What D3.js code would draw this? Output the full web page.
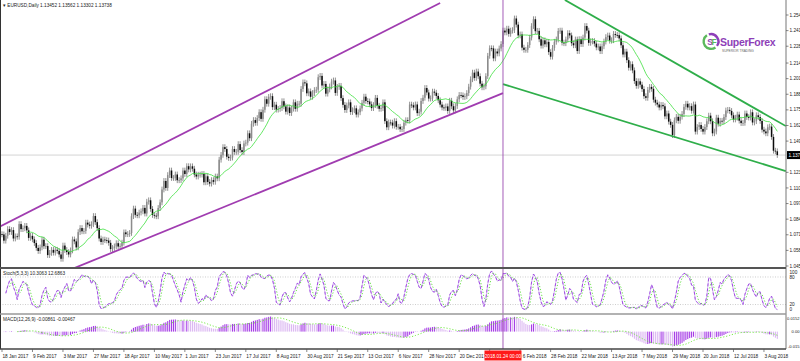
<!DOCTYPE html>
<html><head><meta charset="utf-8">
<script src="https://cdn.jsdelivr.net/npm/d3@7"></script>
<style>
body{margin:0;background:#fff;overflow:hidden;}
svg{display:block;}
text{font-family:"Liberation Sans",Arial,sans-serif;}
</style>
</head><body>
<svg id="c" width="800" height="361"></svg>
<script>
// ---- DATA ----
const symbolTitle = "EURUSD,Daily  1.13452 1.13562 1.13302 1.13738";
const stochTitle = "Stoch(5,3,3) 10.3063 12.6863";
const macdTitle = "MACD(12,26,9) -0.00861 -0.00467";
const firstOpen = 1.0715;
// daily closes, 18 Jan 2017 .. 14 Aug 2018 (one line per week)
const closes = [
1.0713,1.0661,1.0702,
1.0757,1.0733,1.0749,1.0679,1.0697,
1.0693,1.0799,1.0757,1.0764,1.0784,
1.0747,1.0684,1.0701,1.0672,1.0641,
1.0601,1.0575,1.0605,1.0669,1.0615,
1.0616,1.0541,1.0559,1.0584,1.0561,
1.0585,1.0576,1.0546,1.0510,1.0620,
1.0583,1.0566,1.0546,1.0580,1.0671,
1.0655,1.0605,1.0732,1.0766,1.0739,
1.0742,1.0811,1.0795,1.0785,1.0798,
1.0866,1.0815,1.0765,1.0679,1.0650,
1.0670,1.0665,1.0662,1.0643,1.0591,
1.0600,1.0613,1.0640,1.0612,1.0615,
1.0644,1.0730,1.0715,1.0716,1.0725,
1.0865,1.0928,1.0876,1.0872,1.0895,
1.0905,1.0934,1.0887,1.0985,1.0997,
1.0925,1.0875,1.0869,1.0864,1.0933,
1.0980,1.1087,1.1158,1.1100,1.1207,
1.1245,1.1183,1.1183,1.1212,1.1164,
1.1165,1.1180,1.1245,1.1216,1.1281,
1.1254,1.1280,1.1260,1.1212,1.1195,
1.1210,1.1211,1.1216,1.1147,1.1197,
1.1150,1.1136,1.1165,1.1151,1.1195,
1.1180,1.1335,1.1375,1.1440,1.1424,
1.1360,1.1349,1.1353,1.1424,1.1400,
1.1401,1.1465,1.1415,1.1399,1.1470,
1.1477,1.1555,1.1514,1.1634,1.1665,
1.1642,1.1682,1.1731,1.1675,1.1751,
1.1839,1.1801,1.1858,1.1864,1.1773,
1.1793,1.1752,1.1758,1.1765,1.1822,
1.1779,1.1735,1.1770,1.1724,1.1760,
1.1813,1.1759,1.1801,1.1801,1.1924,
1.1979,1.1971,1.1888,1.1904,1.1859,
1.1890,1.1915,1.1918,1.2022,1.2033,
1.1953,1.1966,1.1885,1.1920,1.1945,
1.1985,1.1995,1.1891,1.1941,1.1950,
1.1848,1.1792,1.1749,1.1787,1.1813,
1.1732,1.1747,1.1763,1.1711,1.1730,
1.1762,1.1809,1.1860,1.1824,1.1820,
1.1796,1.1765,1.1790,1.1850,1.1784,
1.1759,1.1764,1.1813,1.1656,1.1605,
1.1645,1.1644,1.1619,1.1656,1.1609,
1.1609,1.1589,1.1591,1.1643,1.1664,
1.1662,1.1794,1.1789,1.1770,1.1795,
1.1723,1.1735,1.1824,1.1851,1.1932,
1.1895,1.1844,1.1846,1.1902,1.1893,
1.1866,1.1830,1.1794,1.1770,1.1766,
1.1779,1.1741,1.1826,1.1780,1.1746,
1.1782,1.1838,1.1874,1.1871,1.1857,
1.1863,1.1890,1.1943,1.2005,
1.2060,1.2016,1.2069,1.2030,
1.1968,1.1938,1.1946,1.2031,1.2200,
1.2263,1.2262,1.2179,1.2236,1.2220,
1.2261,1.2298,1.2410,1.2395,1.2426,
1.2383,1.2410,1.2414,1.2511,1.2460,
1.2370,1.2378,1.2268,1.2250,1.2250,
1.2290,1.2352,1.2448,1.2505,1.2405,
1.2408,1.2338,1.2285,1.2329,1.2296,
1.2316,1.2231,1.2193,1.2266,1.2317,
1.2336,1.2407,1.2410,1.2310,1.2305,
1.2336,1.2389,1.2370,1.2305,1.2288,
1.2336,1.2240,1.2339,1.2298,1.2352,
1.2448,1.2410,1.2308,1.2320,1.2323,
1.2302,1.2270,1.2278,1.2239,1.2280,
1.2319,1.2356,1.2369,1.2326,1.2330,
1.2382,1.2374,1.2372,1.2345,1.2288,
1.2211,1.2235,1.2164,1.2101,1.2130,
1.2079,1.1990,1.1950,1.1988,1.1960,
1.1923,1.1864,1.1850,1.1917,1.1941,
1.1925,1.1835,1.1810,1.1795,1.1770,
1.1791,1.1780,1.1696,1.1720,1.1652,
1.1625,1.1540,1.1663,1.1692,1.1659,
1.1693,1.1716,1.1775,1.1801,1.1770,
1.1781,1.1743,1.1795,1.1569,1.1607,
1.1624,1.1591,1.1569,1.1607,1.1655,
1.1702,1.1655,1.1555,1.1570,1.1685,
1.1635,1.1659,1.1655,1.1690,1.1745,
1.1750,1.1741,1.1705,1.1670,1.1685,
1.1711,1.1660,1.1640,1.1642,1.1720,
1.1690,1.1686,1.1730,1.1645,1.1656,
1.1705,1.1690,1.1658,1.1585,1.1570,
1.1555,1.1605,1.1611,1.1525,1.1410,
1.1405,1.1374
];
const bidPrice = 1.13738;
const bidLabel = "1.137";
const dateLabels = ["18 Jan 2017","9 Feb 2017","3 Mar 2017","27 Mar 2017","18 Apr 2017","10 May 2017","1 Jun 2017","23 Jun 2017","17 Jul 2017","8 Aug 2017","30 Aug 2017","21 Sep 2017","13 Oct 2017","6 Nov 2017","28 Nov 2017","20 Dec 2017","15 Jan 2018","6 Feb 2018","28 Feb 2018","22 Mar 2018","13 Apr 2018","7 May 2018","29 May 2018","20 Jun 2018","12 Jul 2018","3 Aug 2018"];
const dateLabelIndex = [0,16,32,48,64,80,96,112,128,144,160,176,192,208,224,240,256,272,288,304,320,336,352,368,384,400];
const priceTicks = [1.254,1.241,1.228,1.214,1.201,1.188,1.175,1.162,1.149,1.123,1.110,1.097,1.084,1.071,1.058,1.045];
const stochTicks = [100,80,20,0];
const stochLevels = [80,20];
const macdTicks = [0.0152,0,-0.015];
const macdTickLabels = ["0.0152","0.00","-0.015"];
const crosshairIndex = 263;
const crosshairLabel = "2018.01.24 00:00";
// trend lines: [bar index, price]
const purpleUpper = [[-1,1.078],[230,1.264]];
const purpleLower = [[38,1.0433],[263,1.189]];
const greenUpper = [[295.5,1.2665],[411.5,1.1615]];
const greenLower = [[263,1.1965],[411.5,1.124]];

// ---- INDICATORS ----
const n = closes.length;
const opens = closes.map((c,i)=> i===0 ? firstOpen : closes[i-1]);
const wickPad = 0.0024;
const highs = closes.map((c,i)=>Math.max(c,opens[i])+wickPad);
const lows = closes.map((c,i)=>Math.min(c,opens[i])-wickPad);
const maPeriod = 14;
const ma = closes.map((c,i)=> i<maPeriod-1 ? null : d3.mean(closes.slice(i-maPeriod+1,i+1)));
const num=[],den=[];
for(let i=0;i<n;i++){
  const s=Math.max(0,i-4);
  const ll=d3.min(lows.slice(s,i+1)), hh=d3.max(highs.slice(s,i+1));
  num.push(closes[i]-ll); den.push(hh-ll);
}
const stK = closes.map((c,i)=>{ if(i<2) return null; const a=d3.sum(num.slice(i-2,i+1)),b=d3.sum(den.slice(i-2,i+1)); return b>0?a/b*100:50;});
const stD = stK.map((v,i)=> i<4 ? null : d3.mean(stK.slice(i-2,i+1)));
function ema(arr,p){const k=2/(p+1);const o=[];arr.forEach((v,i)=>o.push(i===0?v:v*k+o[i-1]*(1-k)));return o;}
const e12=ema(closes,12), e26=ema(closes,26);
const macd = closes.map((c,i)=>e12[i]-e26[i]);
const macdSig = macd.map((v,i)=> i<8?null:d3.mean(macd.slice(i-8,i+1)));

// ---- SCALES ----
const svg = d3.select("#c");
const axisX = 786;
const x = d3.scaleLinear().domain([0,407]).range([2,777.3]);
const y = d3.scaleLinear().domain([1.045,1.254]).range([266,15]);
const ys = d3.scaleLinear().domain([0,100]).range([313.7,267.8]);
const ym = d3.scaleLinear().domain([-0.015,0.0152]).range([348,315]);

const defs = svg.append("defs");
function clip(id,x0,y0,w,h){defs.append("clipPath").attr("id",id).append("rect").attr("x",x0).attr("y",y0).attr("width",w).attr("height",h);}
clip("cm",1,0,axisX-1,267);
clip("cs",1,269,axisX-1,44);
clip("cd",1,315,axisX-1,33);

svg.append("rect").attr("width",800).attr("height",361).attr("fill","#fff");

// main panel
const gm = svg.append("g").attr("clip-path","url(#cm)");
gm.append("line").attr("x1",0).attr("x2",axisX).attr("y1",y(bidPrice)).attr("y2",y(bidPrice)).attr("stroke","#c8c8c8").attr("stroke-width",0.8);
const idx = d3.range(n);
gm.append("g").selectAll("line").data(idx).join("line")
  .attr("x1",i=>x(i)).attr("x2",i=>x(i)).attr("y1",i=>y(highs[i])).attr("y2",i=>y(lows[i]))
  .attr("stroke","#444").attr("stroke-width",0.6);
gm.append("g").selectAll("rect").data(idx).join("rect")
  .attr("x",i=>x(i)-0.75).attr("width",1.5)
  .attr("y",i=>y(Math.max(opens[i],closes[i])))
  .attr("height",i=>Math.max(0.8,Math.abs(y(opens[i])-y(closes[i]))))
  .attr("fill",i=>closes[i]>=opens[i]?"#8c8c8c":"#0a0a0a");
const maLine = d3.line().defined(d=>d!=null).x((d,i)=>x(i)).y(d=>y(d));
gm.append("path").attr("d",maLine(ma)).attr("fill","none").attr("stroke","#3ee03e").attr("stroke-width",0.8);
const tl = d3.line().x(d=>x(d[0])).y(d=>y(d[1]));
[[purpleUpper,"#a03cb0"],[purpleLower,"#a03cb0"],[greenUpper,"#2fae4a"],[greenLower,"#2fae4a"]].forEach(([pts,col])=>{
  gm.append("path").attr("d",tl(pts)).attr("stroke",col).attr("stroke-width",1.8).attr("fill","none");
});

// logo
const lg = svg.append("g");
const lcx=711, lcy=41.5;
const arc=d3.arc().innerRadius(6.2).outerRadius(8.6);
lg.append("path").attr("transform",`translate(${lcx},${lcy})`).attr("d",arc({startAngle:-0.3,endAngle:2.2})).attr("fill","#8e3fb8");
lg.append("path").attr("transform",`translate(${lcx},${lcy})`).attr("d",arc({startAngle:2.5,endAngle:5.7})).attr("fill","#5cb85c");
lg.append("text").attr("x",lcx-3.8).attr("y",lcy+3.2).attr("font-size",8.5).attr("font-weight","bold").attr("fill","#8e3fb8").text("S");
lg.append("text").attr("x",lcx+0.6).attr("y",lcy+3.2).attr("font-size",8.5).attr("font-weight","bold").attr("fill","#5cb85c").text("F");
lg.append("text").attr("x",720).attr("y",46).attr("font-size",10.5).attr("font-weight","bold").attr("fill","#8e3fb8").attr("letter-spacing",-0.3).text("SuperForex");
lg.append("text").attr("x",722).attr("y",51.5).attr("font-size",3.2).attr("fill","#666").text("SUPERIOR TRADING");

// stochastic panel
const gs = svg.append("g").attr("clip-path","url(#cs)");
stochLevels.forEach(v=>gs.append("line").attr("x1",0).attr("x2",axisX).attr("y1",ys(v)).attr("y2",ys(v)).attr("stroke","#b8b8b8").attr("stroke-width",0.7).attr("stroke-dasharray","1,1.5"));
const sl = d3.line().defined(d=>d!=null).x((d,i)=>x(i)).y(d=>ys(d));
gs.append("path").attr("d",sl(stK)).attr("fill","none").attr("stroke","#d2b6f2").attr("stroke-width",0.9);
gs.append("path").attr("d",sl(stK)).attr("fill","none").attr("stroke","#9b3fe0").attr("stroke-width",0.9).attr("stroke-dasharray","3,2");
gs.append("path").attr("d",sl(stD)).attr("fill","none").attr("stroke","#55dd33").attr("stroke-width",0.9).attr("stroke-dasharray","1.2,1.8");

// macd panel
const gd = svg.append("g").attr("clip-path","url(#cd)");
gd.append("g").selectAll("rect").data(idx).join("rect")
  .attr("x",i=>x(i)-0.55).attr("width",1.1)
  .attr("y",i=>Math.min(ym(0),ym(macd[i])))
  .attr("height",i=>Math.abs(ym(macd[i])-ym(0)))
  .attr("fill",i=> (i>0 && macd[i]>macd[i-1]) ? "#a63ce6" : "#dcb8f2");
const ml = d3.line().defined(d=>d!=null).x((d,i)=>x(i)).y(d=>ym(d));
gd.append("path").attr("d",ml(macdSig)).attr("fill","none").attr("stroke","#66e633").attr("stroke-width",0.9).attr("stroke-dasharray","1.2,1.8");

// crosshair vertical
svg.append("line").attr("x1",x(crosshairIndex)).attr("x2",x(crosshairIndex)).attr("y1",0).attr("y2",349).attr("stroke","#9a4ab0").attr("stroke-width",0.9);

// frames
svg.append("line").attr("x1",0.5).attr("x2",0.5).attr("y1",0).attr("y2",349).attr("stroke","#333").attr("stroke-width",1);
svg.append("line").attr("x1",axisX).attr("x2",axisX).attr("y1",0).attr("y2",349).attr("stroke","#777").attr("stroke-width",1);
svg.append("line").attr("x1",0).attr("x2",axisX).attr("y1",268).attr("y2",268).attr("stroke","#555").attr("stroke-width",2);
svg.append("line").attr("x1",0).attr("x2",axisX).attr("y1",314).attr("y2",314).attr("stroke","#999").attr("stroke-width",1.4);
svg.append("line").attr("x1",0).attr("x2",axisX).attr("y1",349).attr("y2",349).attr("stroke","#444").attr("stroke-width",1.5);

const fs = 4.7;
// titles
svg.append("text").attr("x",3).attr("y",7).attr("font-size",fs).attr("fill","#222").text("\u25BE " + symbolTitle);
svg.append("text").attr("x",3).attr("y",275).attr("font-size",fs).attr("fill","#222").text(stochTitle);
svg.append("text").attr("x",3).attr("y",321).attr("font-size",fs).attr("fill","#222").text(macdTitle);

// price axis
const pa = svg.append("g");
priceTicks.forEach(v=>{
  pa.append("line").attr("x1",axisX).attr("x2",axisX+2.5).attr("y1",y(v)).attr("y2",y(v)).attr("stroke","#555").attr("stroke-width",0.7);
  pa.append("text").attr("x",axisX+3.5).attr("y",y(v)+1.6).attr("font-size",fs).attr("fill","#222").text(d3.format(".3f")(v));
});
pa.append("rect").attr("x",axisX+1).attr("y",y(bidPrice)-4).attr("width",800-axisX).attr("height",8).attr("fill","#000");
pa.append("text").attr("x",axisX+2.5).attr("y",y(bidPrice)+1.7).attr("font-size",fs).attr("fill","#fff").text(bidLabel);
stochTicks.forEach(v=>{
  const yy = v===100 ? 272 : v===0 ? 309.5 : ys(v);
  pa.append("text").attr("x",axisX+3.5).attr("y",yy+1.6).attr("font-size",fs).attr("fill","#222").text(v);
});
macdTicks.forEach((v,k)=>{
  const yy = k===0 ? 318.5 : k===2 ? 346.5 : ym(v);
  pa.append("text").attr("x",799.5).attr("text-anchor","end").attr("y",yy+1.5).attr("font-size",4.1).attr("fill","#222").text(macdTickLabels[k]);
});

// date axis (labels hidden by the crosshair date box are skipped, as in the terminal)
const cx = x(crosshairIndex);
const boxL = cx-18.5, boxR = cx+18.5;
const da = svg.append("g");
dateLabels.forEach((t,k)=>{
  let xx = x(dateLabelIndex[k]);
  da.append("line").attr("x1",xx).attr("x2",xx).attr("y1",349).attr("y2",352).attr("stroke","#555").attr("stroke-width",0.7);
  const w = t.length*2.05;
  if (xx+w > boxL && xx < boxR) {
    if (xx > cx) xx = boxR + 0.8; else return;
  }
  da.append("text").attr("x",xx+0.5).attr("y",357.5).attr("font-size",fs).attr("fill","#222").text(t);
});
da.append("rect").attr("x",boxL).attr("y",350.5).attr("width",37).attr("height",10).attr("fill","#ff1a1a");
da.append("text").attr("x",cx).attr("y",357.5).attr("text-anchor","middle").attr("font-size",fs).attr("fill","#fff").text(crosshairLabel);
</script>
</body></html>
